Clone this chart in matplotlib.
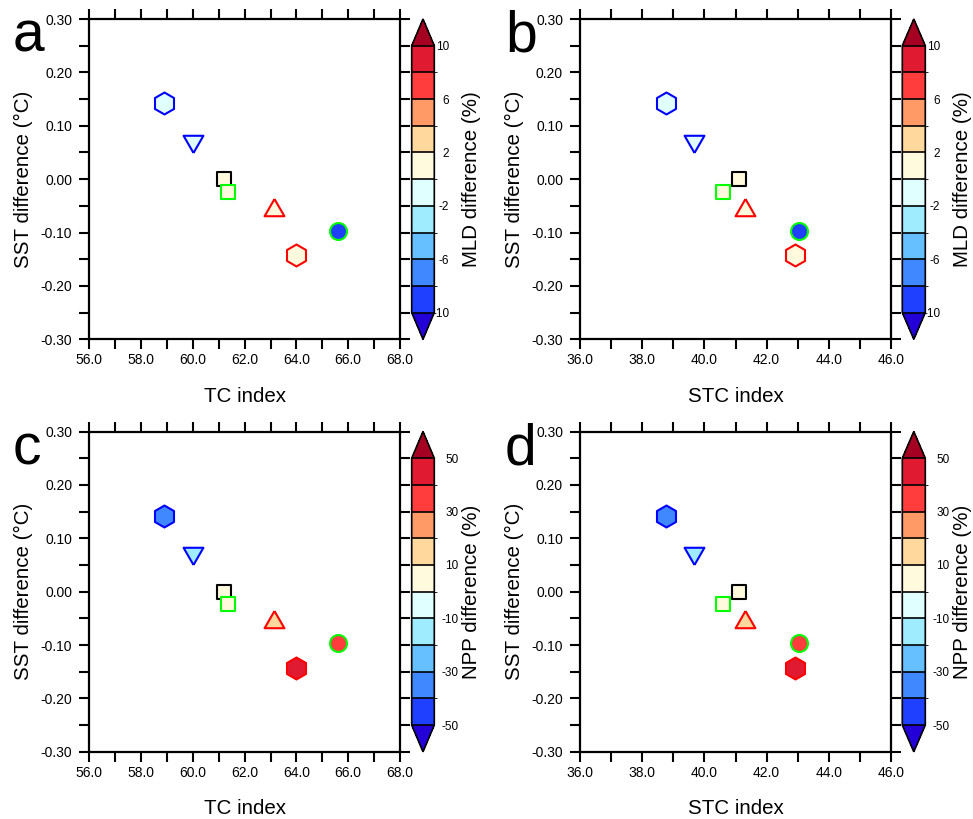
import numpy as np
import matplotlib
matplotlib.use("Agg")
import matplotlib.pyplot as plt
from matplotlib.colors import ListedColormap, BoundaryNorm

plt.rcParams['font.family'] = ['Liberation Sans', 'DejaVu Sans']

# ---------------- data ----------------
tc_index = [58.9, 60.0, 61.2, 61.35, 63.15, 65.6, 64.0]
stc_index = [38.75, 39.65, 41.1, 40.6, 41.3, 43.05, 42.9]
sst_diff = [0.142, 0.072, 0.0, -0.024, -0.057, -0.097, -0.143]
mld_diff = [-1.0, -1.0, 0.5, 0.5, 1.0, -9.0, 1.0]
npp_diff = [-35.0, -15.0, 2.0, 2.0, 15.0, 35.0, 45.0]

markers = ['h', 'v', 's', 's', '^', 'o', 'h']
edge_colors = ['#0000FF', '#0000FF', '#000000', '#00FF00', '#FF0000', '#00FF00', '#FF0000']

mld_levels = [-10, -8, -6, -4, -2, 0, 2, 4, 6, 8, 10]
mld_ticks = [-10, -6, -2, 2, 6, 10]
npp_levels = [-50, -40, -30, -20, -10, 0, 10, 20, 30, 40, 50]
npp_ticks = [-50, -30, -10, 10, 30, 50]

cmap_colors = ['#2040FF', '#3F88FF', '#66C0FF', '#A0ECFF', '#E0FFFF',
               '#FFF9DE', '#FFD89E', '#FF9A66', '#FF3D3D', '#E01A30']
under_color = '#2400D8'
over_color = '#A50021'

tc_ticks = [56, 57, 58, 59, 60, 61, 62, 63, 64, 65, 66, 67, 68]
stc_ticks = [36, 37, 38, 39, 40, 41, 42, 43, 44, 45, 46]
sst_ticks = [-0.30, -0.25, -0.20, -0.15, -0.10, -0.05, 0.0, 0.05, 0.10, 0.15, 0.20, 0.25, 0.30]

panel_letters = ['a', 'b', 'c', 'd']

# ---------------- figure ----------------
W, H = 973, 819
fig = plt.figure(figsize=(W / 100, H / 100), dpi=100)

cmap = ListedColormap(cmap_colors)
cmap.set_under(under_color)
cmap.set_over(over_color)

# equilateral triangles
up_tri = [(0, 1), (-0.866, -0.5), (0.866, -0.5), (0, 1)]
down_tri = [(0, -1), (-0.866, 0.5), (0.866, 0.5), (0, -1)]
marker_shapes = {'h': ('h', 15.8), 'v': (down_tri, 16.5), '^': (up_tri, 16.5),
                 's': ('s', 10.3), 'o': ('o', 12.2)}


def px2fig(left, top, right, bottom):
    return [left / W, 1 - bottom / H, (right - left) / W, (bottom - top) / H]


cols = [dict(left=89.3, right=400.0, cb_l=411.7, cb_r=434.3, letter_x=13),
        dict(left=580.0, right=891.0, cb_l=902.3, cb_r=925.3, letter_x=505)]
rows = [dict(top=19.0, bottom=339.3), dict(top=431.5, bottom=751.8)]

panels = [
    (tc_index, mld_diff, mld_levels, mld_ticks, 'MLD difference (%)', tc_ticks, 'TC index', 10.8),
    (stc_index, mld_diff, mld_levels, mld_ticks, 'MLD difference (%)', stc_ticks, 'STC index', 10.8),
    (tc_index, npp_diff, npp_levels, npp_ticks, 'NPP difference (%)', tc_ticks, 'TC index', 17.3),
    (stc_index, npp_diff, npp_levels, npp_ticks, 'NPP difference (%)', stc_ticks, 'STC index', 17.3),
]

for k, (xv, cv, levels, cticks, clabel, xticks, xlabel, cpad) in enumerate(panels):
    c = cols[k % 2]
    r = rows[k // 2]
    ax = fig.add_axes(px2fig(c['left'], r['top'], c['right'], r['bottom']))
    norm = BoundaryNorm(levels, cmap.N)

    for i in range(len(xv)):
        mk, ms = marker_shapes[markers[i]]
        ax.scatter([xv[i]], [sst_diff[i]], c=[cv[i]], cmap=cmap, norm=norm,
                   marker=mk, s=ms ** 2, edgecolors=edge_colors[i],
                   linewidths=1.5, zorder=3)

    ax.set_xlim(xticks[0], xticks[-1])
    ax.set_ylim(sst_ticks[0], sst_ticks[-1])
    ax.set_xticks(xticks)
    ax.set_xticklabels(['%.1f' % t if j % 2 == 0 else '' for j, t in enumerate(xticks)])
    ax.set_yticks(sst_ticks)
    ax.set_yticklabels([('%.2f' % t).replace('-0.00', '0.00') if j % 2 == 0 else ''
                        for j, t in enumerate(sst_ticks)])
    ax.tick_params(direction='out', length=7.2, width=1.5, labelsize=10,
                   top=True, right=True, pad=3)
    ax.tick_params(axis='y', pad=5)
    for s in ax.spines.values():
        s.set_linewidth(1.6)

    ax.set_xlabel(xlabel, fontsize=14.8, va='center')
    ax.xaxis.set_label_coords(0.5, -0.178)
    ax.set_ylabel('SST difference (\u00b0C)', fontsize=14.8, va='center')
    ax.yaxis.set_label_coords(-66 / (c['right'] - c['left']), 0.5)

    # colorbar
    cax = fig.add_axes(px2fig(c['cb_l'], r['top'], c['cb_r'], r['bottom']))
    sm = matplotlib.cm.ScalarMappable(norm=norm, cmap=cmap)
    cb = fig.colorbar(sm, cax=cax, orientation='vertical', extend='both',
                      extendfrac=0.1, drawedges=True, ticks=cticks)
    cb.outline.set_linewidth(1.2)
    cb.dividers.set_linewidth(1.2)
    cb.ax.set_yticklabels([str(t) for t in cticks], ha='right', fontsize=8.5)
    cb.ax.tick_params(length=0, pad=cpad)
    fig.text((c['cb_r'] + 37.5) / W, 1 - ((r['top'] + r['bottom']) / 2) / H, clabel,
             rotation=90, ha='center', va='center', fontsize=14.8)

    fig.text(c['letter_x'] / W, 1 - (r['top'] + 33) / H, panel_letters[k],
             fontsize=41, ha='left', va='baseline')

fig.savefig('out.png', dpi=100)
